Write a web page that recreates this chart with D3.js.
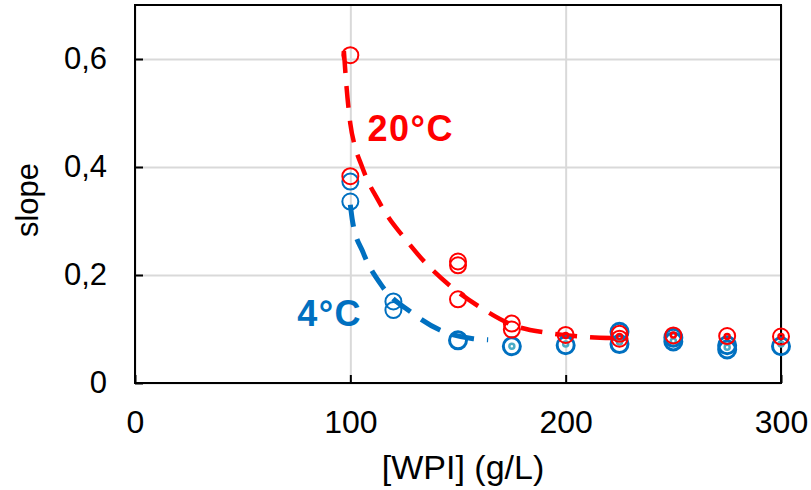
<!DOCTYPE html>
<html>
<head>
<meta charset="utf-8">
<script src="https://cdn.jsdelivr.net/npm/d3@7"></script>
<style>
  body { margin: 0; background: #fff; }
  text { font-family: Arial, "Liberation Sans", sans-serif; }
</style>
</head>
<body>
<div id="chart"></div>
<script>
// 20°C measurements (open red circles)
var redX = [100, 100, 150, 150, 150, 175, 175, 200, 225, 225, 250, 275, 300];
var redY = [0.607, 0.383, 0.225, 0.218, 0.155, 0.110, 0.099, 0.089, 0.091, 0.082, 0.088, 0.087, 0.086];
// 20°C small markers
var redSmallX = [200, 225, 250, 275, 300];
var redSmallY = [0.088, 0.086, 0.089, 0.086, 0.086];

// 4°C measurements (open blue circles)
var blueThinX = [100, 100, 120, 120];
var blueThinY = [0.373, 0.336, 0.151, 0.135];
var blueThickX = [150, 175, 200, 225, 225, 250, 250, 275, 275, 300];
var blueThickY = [0.079, 0.068, 0.070, 0.095, 0.072, 0.084, 0.077, 0.070, 0.062, 0.068];
// 4°C small markers
var blueSmallX = [175, 200, 225, 250, 275, 300];
var blueSmallY = [0.068, 0.072, 0.076, 0.078, 0.066, 0.072];

// fitted curves
var redFitX = [97, 98, 100, 102, 105, 108, 112, 118, 124, 135, 146, 160, 175, 193, 210, 225];
var redFitY = [0.615, 0.56, 0.48, 0.44, 0.405, 0.375, 0.345, 0.305, 0.274, 0.222, 0.181, 0.141, 0.108, 0.092, 0.085, 0.083];
var blueFitX = [100, 101, 106, 115, 128.6, 141.6, 157, 164];
var blueFitY = [0.33, 0.30, 0.241, 0.178, 0.130, 0.098, 0.082, 0.080];

var xTicks = [0, 100, 200, 300];
var yTicks = [0, 0.2, 0.4, 0.6];

var zip = function (xs, ys) {
  return xs.map(function (x, i) { return { x: x, y: ys[i] }; });
};

var margin = { top: 5, right: 30, bottom: 107, left: 135 },
    width = 811 - margin.left - margin.right,
    height = 490 - margin.top - margin.bottom;

var svg = d3.select("#chart")
  .append("svg")
  .attr("width", 811)
  .attr("height", 490);

svg.append("rect").attr("width", 811).attr("height", 490).attr("fill", "#fff");

var g = svg.append("g")
  .attr("transform", "translate(" + margin.left + "," + margin.top + ")");

var xscale = d3.scaleLinear().domain([0, 300]).range([0, width]);
var yscale = d3.scaleLinear().domain([0, 0.7]).range([height, 0]);

// gridlines
g.append("g")
  .attr("transform", "translate(0," + height + ")")
  .call(d3.axisBottom(xscale).tickValues(xTicks).tickSize(-height).tickFormat(""))
  .call(function (a) { a.select(".domain").remove(); })
  .selectAll("line").attr("stroke", "#d9d9d9").attr("stroke-width", 2);

g.append("g")
  .call(d3.axisLeft(yscale).tickValues(yTicks).tickSize(-width).tickFormat(""))
  .call(function (a) { a.select(".domain").remove(); })
  .selectAll("line").attr("stroke", "#d9d9d9").attr("stroke-width", 2);

// axes with inside ticks
var fmtY = function (d) { return d === 0 ? "0" : d3.format(".1f")(d).replace(".", ","); };

var xaxis = g.append("g")
  .attr("transform", "translate(0," + height + ")")
  .call(d3.axisBottom(xscale).tickValues(xTicks).tickSizeInner(-8).tickSizeOuter(0).tickPadding(27));
xaxis.selectAll("line").attr("stroke", "#000").attr("stroke-width", 2);
xaxis.selectAll("text").attr("font-size", 32).attr("fill", "#000");

var yaxis = g.append("g")
  .call(d3.axisLeft(yscale).tickValues(yTicks).tickFormat(fmtY).tickSizeInner(-8).tickSizeOuter(0).tickPadding(28));
yaxis.selectAll("line").attr("stroke", "#000").attr("stroke-width", 2);
yaxis.selectAll("text").attr("font-size", 31).attr("fill", "#000");
g.selectAll(".domain").remove();

// plot border
g.append("rect")
  .attr("width", width).attr("height", height)
  .attr("fill", "none").attr("stroke", "#000").attr("stroke-width", 2);

// fitted curves
var line = d3.line()
  .x(function (d) { return xscale(d.x); })
  .y(function (d) { return yscale(d.y); })
  .curve(d3.curveMonotoneX);

g.append("path")
  .datum(zip(blueFitX, blueFitY))
  .attr("d", line)
  .attr("fill", "none").attr("stroke", "#0070c0").attr("stroke-width", 5)
  .attr("stroke-dasharray", "22,13");

g.append("path")
  .datum(zip(redFitX, redFitY))
  .attr("d", line)
  .attr("fill", "none").attr("stroke", "#ff0000").attr("stroke-width", 4.5)
  .attr("stroke-dasharray", "22,13");

// markers
var dots = function (data, r, color, sw) {
  g.append("g").selectAll("circle")
    .data(data)
    .enter()
    .append("circle")
    .attr("cx", function (d) { return xscale(d.x); })
    .attr("cy", function (d) { return yscale(d.y); })
    .attr("r", r)
    .attr("fill", "none")
    .attr("stroke", color)
    .attr("stroke-width", sw);
};

dots(zip(blueThinX, blueThinY), 8, "#0070c0", 2);
dots(zip(blueThickX, blueThickY), 8.5, "#0070c0", 3);
dots(zip(blueSmallX, blueSmallY), 2.5, "#4bacc6", 2.5);
dots(zip(redX, redY), 8, "#ff0000", 2);
dots(zip(redSmallX, redSmallY), 2.5, "#ff0000", 2.5);

// series labels
g.append("text")
  .attr("x", xscale(108)).attr("y", yscale(0.448))
  .attr("font-size", 36).attr("font-weight", "bold").attr("letter-spacing", 1.5)
  .attr("fill", "#ff0000")
  .text("20°C");

g.append("text")
  .attr("x", xscale(75.3)).attr("y", yscale(0.106))
  .attr("font-size", 36).attr("font-weight", "bold").attr("letter-spacing", 1.5)
  .attr("fill", "#0070c0")
  .text("4°C");

// axis titles
svg.append("text")
  .attr("x", 463).attr("y", 479)
  .attr("text-anchor", "middle").attr("font-size", 34)
  .text("[WPI] (g/L)");

svg.append("text")
  .attr("transform", "translate(38,200) rotate(-90)")
  .attr("text-anchor", "middle").attr("font-size", 31)
  .text("slope");
</script>
</body>
</html>
